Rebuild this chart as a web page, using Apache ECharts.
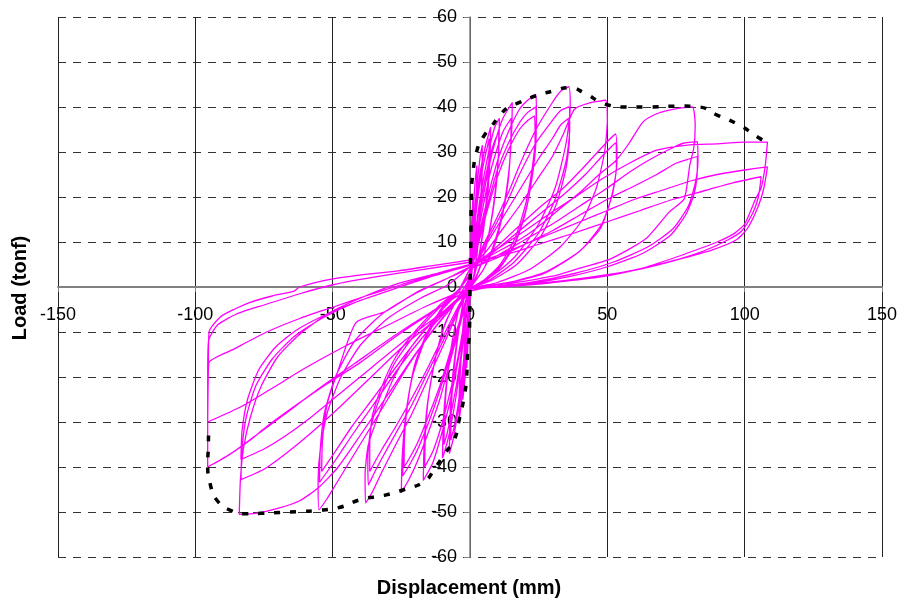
<!DOCTYPE html>
<html>
<head>
<meta charset="utf-8">
<script src="https://cdn.jsdelivr.net/npm/echarts@6/dist/echarts.min.js"></script>
<style>html,body{margin:0;padding:0;background:#fff}#c{width:900px;height:598px}</style>
</head>
<body>
<div id="c"></div>
<script>
// Axis ticks
var xTicks = [-150, -100, -50, 0, 50, 100, 150];
var yTicks = [-60, -50, -40, -30, -20, -10, 0, 10, 20, 30, 40, 50, 60];
var xName = 'Displacement (mm)';
var yName = 'Load (tonf)';

// Envelope (dashed black)
var envelope = [[-95.2,-33],[-95.3,-36],[-95.5,-39],[-94.5,-44],[-92,-47.5],[-87,-49.7],[-82,-50.4],[-76,-50.3],[-69.4,-50.1],[-62,-49.9],[-56.6,-49.7],[-47.6,-49],[-39.6,-47.2],[-31.2,-46.3],[-23.9,-45],[-16.6,-43.2],[-13,-40.5],[-9.4,-37.2],[-5.7,-33.9],[-3.9,-29.4],[-2,-24],[-1.3,-20.5],[-0.8,-14],[-0.2,-10],[0,0],[0.3,10],[0.5,20],[1,25],[2.7,30.7],[5,33.5],[7.7,35.6],[10.7,38],[14,40],[17.2,40.8],[24,42.5],[30,43.5],[36,44.3],[42,43],[47,41.2],[50,40.5],[55,40],[65,40],[76,40.2],[83.5,40],[90,38.2],[98,36],[105,33.2],[108.5,32]];

// Hysteresis cycles (magenta)
var cycS1 = [[0,1],[0.15,5],[0.3,9],[0.5,12],[0.4,8],[0.25,4],[0.1,0],[-0.1,-4],[-0.25,-8],[-0.4,-10],[-0.3,-6],[-0.15,-2],[0,1]];
var cycS2 = [[0,2],[0.3,8],[0.6,14],[0.9,18],[1.1,20],[1,15],[0.7,9],[0.4,4],[0.1,0],[-0.3,-6],[-0.7,-12],[-1,-16],[-1.2,-18],[-1.1,-13],[-0.8,-7],[-0.4,-2],[0,2]];
var cycS3 = [[0,3],[0.6,10],[1.2,17],[1.8,23],[2.5,27],[2.3,20],[1.8,13],[1.1,6],[0.4,1],[-0.2,-4],[-0.8,-11],[-1.5,-18],[-2.1,-22],[-2.6,-25],[-2.4,-18],[-1.9,-11],[-1.1,-4],[-0.4,0.5],[0,3]];
var cycS4 = [[0,3],[0.8,10],[1.8,18],[2.8,24],[3.7,29],[4.5,31.5],[4.3,25],[3.7,17],[2.7,9],[1.5,3],[0.4,0],[-0.4,-6],[-1.3,-13],[-2.2,-20],[-3.2,-26],[-4,-30],[-3.8,-23],[-3.2,-15],[-2.2,-7],[-1,-1],[0,3]];
var cycS4b = [[0,3],[0.8,9],[1.8,16],[2.8,21.5],[3.7,25.5],[4.5,28],[4.3,22],[3.7,15],[2.7,8],[1.5,2.5],[0.4,0],[-0.4,-5.5],[-1.3,-12],[-2.2,-18],[-3.2,-23.5],[-4,-27],[-3.8,-21],[-3.2,-14],[-2.2,-6.5],[-1,-1],[0,3]];
var cycL4 = [[0,3],[1,10],[2.5,19],[4,26],[5.5,31],[7.5,35.5],[7.3,29],[6.5,21],[5,13],[3,6],[1,1],[-0.5,-5],[-1.7,-13],[-3,-21],[-4.5,-28],[-6,-33.5],[-7.5,-37],[-7.3,-29],[-6.5,-21],[-5,-13],[-3,-5],[-1,0.5],[0,3]];
var cycL4b = [[0,3],[1,9.5],[2.5,18],[4,24.5],[5.5,29],[7,33],[6.8,27],[6,19.5],[4.6,12],[2.8,5.5],[1,1],[-0.5,-4.5],[-1.6,-12],[-2.9,-19.5],[-4.3,-26],[-5.7,-31],[-7,-34],[-6.8,-27],[-6,-19.5],[-4.6,-12],[-2.8,-4.5],[-1,0.5],[0,3]];
var cycL5 = [[0,3],[1.5,10],[3.5,19],[5.5,26],[7.5,32],[9,35.5],[10.7,37.5],[10.5,31],[9.5,23],[7.5,14],[5,7],[2,2],[0,0],[-1.5,-7],[-3,-15],[-5,-24],[-7,-31],[-8.5,-35],[-10,-38],[-9.7,-30],[-8.7,-22],[-7,-14],[-4.5,-6],[-2,-1],[0,3]];
var cycL5b = [[0,3],[1.5,9.5],[3.5,17.5],[5.5,24],[7.5,29.5],[9,32.5],[10.5,34.5],[10.3,28.5],[9.3,21],[7.3,13],[4.8,6.5],[2,1.8],[0,0],[-1.5,-6.5],[-3,-14],[-5,-22],[-7,-28.5],[-8.3,-32.5],[-9.5,-35],[-9.2,-28],[-8.3,-20.5],[-6.7,-13],[-4.3,-5.5],[-2,-1],[0,3]];
var cycL6 = [[0,3],[2,10],[4.5,19],[7,27],[9.5,33],[12,37.5],[15.4,41],[15.2,35],[14.2,26],[12,17],[9,10],[5,4],[1.5,1],[0,-1],[-2,-8],[-4.5,-17],[-7.5,-26],[-10.5,-33],[-13.5,-39],[-17,-43],[-16.7,-35],[-15.5,-26],[-13,-17],[-9.5,-9],[-5,-3],[-1,1],[0,3]];
var cycL6b = [[0,3],[2,9],[4.5,17],[7,24.5],[9.5,30],[12,34.5],[15,37.5],[14.8,31],[13.8,23],[11.5,15],[8.5,8.5],[4.5,3.5],[1,0.5],[0,-1],[-2,-7.5],[-4.5,-16],[-7.5,-24],[-10.5,-31],[-13.5,-36.5],[-16.5,-40],[-16.2,-32],[-15,-24],[-12.5,-15.5],[-9,-8],[-4.5,-2.5],[-1,1],[0,3]];
var cycL7 = [[0,3],[3,11],[6.5,20],[10,28],[14,34.5],[18,39.5],[21,41.5],[24,42.8],[24.2,37],[23,28],[20.5,19],[16.5,11],[11,5],[5,1.5],[0,-0.5],[-3,-7],[-7,-16],[-11,-25],[-15,-32],[-19,-38.5],[-22,-42.5],[-25,-45.7],[-24.7,-38],[-23.5,-29],[-21,-20],[-16.5,-12],[-10,-5],[-4,-0.5],[0,3]];
var cycL7b = [[0,3],[3,10],[6.5,18.5],[10,26],[14,32],[18,36.5],[21,38.8],[24,40],[24.1,34],[23,26],[20.5,17.5],[16.5,10],[11,4.5],[5,1.2],[0,-0.5],[-3,-6.5],[-7,-15],[-11,-23],[-15,-30],[-19,-36],[-22,-39.5],[-24.5,-42],[-24.2,-35],[-23,-27],[-20.5,-18.5],[-16,-11],[-10,-4.5],[-4,-0.5],[0,3]];
var cycL7c = [[0,3],[3,9.5],[6.5,17.5],[10,24.5],[14,30.5],[18,35],[21,37],[23.5,38],[23.7,32],[22.5,24],[20,16],[16,9],[10.5,4],[5,1],[0,-0.5],[-3,-6],[-7,-14],[-11,-22],[-15,-28.5],[-19,-34.5],[-22,-38],[-24,-40],[-23.8,-33],[-22.5,-25],[-20,-17],[-15.5,-10],[-9.5,-4],[-4,-0.5],[0,3]];
var cycL8 = [[0,4],[2,5],[5,9.5],[9.5,15],[14,21],[18,27],[24,35],[30,41],[33,43.5],[36,44.5],[36.5,40],[35,32],[31,22],[25,14],[16,6.5],[7,2],[0,-0.5],[-4,-5],[-9,-12],[-15,-20],[-21,-28],[-27,-35],[-32,-41],[-35.5,-45.5],[-38,-48],[-38.2,-42],[-37,-35],[-33,-28],[-28,-20.5],[-21,-13],[-11,-5.6],[-4,-1],[0,4]];
var cycL8b = [[0,4],[2,5],[5,9],[9.5,14],[14,19.5],[18,25],[24,32],[30,37],[33,39.2],[36,40],[36.3,35],[35,28],[31,19.5],[25,12],[16,5.5],[7,1.5],[0,-0.5],[-4,-4.5],[-9,-11],[-15,-18.5],[-21,-26],[-27,-32.5],[-32,-38],[-35,-41.5],[-37,-44],[-37.2,-38],[-36,-31],[-32.5,-24],[-27.5,-17],[-20,-10.5],[-11,-4.5],[-4,-0.5],[0,4]];
var cycL8c = [[0,4],[3,6],[6,9.5],[10,13.5],[15,18.5],[20,23.5],[25,28.5],[30,33],[33,36],[36,37.5],[36.2,33],[35,26.5],[31.5,18.5],[25.5,11],[17,5],[8,1.5],[0,-0.5],[-4,-4],[-9,-10],[-15,-17.5],[-21,-24.5],[-27,-31],[-32,-36],[-36.5,-41],[-36.5,-35],[-35.5,-28.5],[-32,-22],[-27,-15.5],[-19.5,-9.5],[-11,-4],[-4,-0.5],[0,4]];
var cycL9 = [[0,4],[6,8],[12,13],[18,18],[24,23.5],[30,29],[34,34],[38,39.5],[43,40.8],[49.4,41.5],[50,37],[49,30],[46,22],[41,15],[33,9],[22,4],[10,1],[0,-0.5],[-6,-4],[-14,-10],[-22,-17],[-30,-25],[-38,-33],[-44,-39],[-49,-44],[-52,-47],[-55,-49.5],[-55.3,-43],[-54.5,-36],[-52,-28],[-47,-20],[-40,-13],[-30,-7],[-18,-2.5],[-8,0.5],[0,4.5]];
var cycL9b = [[0,4],[8,8],[16,12.5],[25,17.5],[34,22],[42,27],[48,31],[53,34],[53.5,28],[52,21],[48,14],[40,8],[28,3.5],[14,1],[0,-0.5],[-8,-5],[-17,-11],[-26,-18],[-35,-26],[-43,-33],[-49,-38.5],[-54.8,-43.4],[-54.5,-36],[-53,-28],[-49,-20],[-42,-12],[-32,-6],[-20,-1.5],[-8,2],[0,4.5]];
var cycL9c = [[0,4],[8,7.5],[16,11.5],[25,16],[34,20.5],[42,25],[48,29],[53,32],[53.3,26.5],[51.5,20],[47.5,13],[39,7.5],[27,3],[13,0.8],[0,-0.5],[-8,-4.5],[-17,-10],[-26,-17],[-35,-24.5],[-43,-31],[-49,-36.5],[-54,-41],[-53.7,-34],[-52,-26],[-48,-18.5],[-41.5,-7.9],[-31,-5.5],[-19,-1],[-8,2],[0,4.5]];
var cycL10 = [[0,4.7],[6,6.5],[12,8.5],[18,10.5],[24,13],[32,17],[40,21],[47,25],[53,28],[58,32],[63,36.7],[68,38.5],[72.6,39.3],[77,39.8],[81,40],[82,36],[81.5,31],[80,27],[78,19.6],[72.6,16.7],[64,10.7],[51,6.2],[40,4.2],[30,2.4],[15,0.8],[0,-0.5],[-10,-7],[-20,-15],[-30,-24],[-40,-33],[-48,-40],[-55,-44.5],[-62,-47.5],[-70,-49.2],[-78,-50.3],[-84,-50.5],[-83.6,-43],[-82.5,-36],[-80,-29],[-76,-22],[-70,-15.5],[-62,-10.5],[-52,-6],[-40,-2.5],[-26,0.8],[-12,3],[0,5]];
var cycL10b = [[0,4],[10,7],[20,10.5],[30,14],[40,18],[50,22],[58,25.5],[66,28.5],[74,31],[78,32],[82.8,32.3],[83,28],[82,23],[79.5,18],[74,13],[65,9],[52,5.5],[38,3],[22,1],[8,0],[0,-1],[-12,-7],[-24,-13],[-36,-20],[-48,-27],[-58,-32.5],[-67,-37],[-75,-40.5],[-83.4,-42.8],[-83,-36],[-81.5,-29],[-78,-22],[-72,-16],[-64,-11],[-54,-7],[-42,-3.5],[-28,-0.5],[-14,2.5],[0,5]];
var cycL10c = [[0,4],[10,6.5],[20,9.5],[30,12.5],[40,16],[50,19.5],[60,22.5],[68,25],[75,27.5],[80,28.5],[82.8,29],[82.7,25],[81.5,20.5],[78.5,16],[73,11.5],[63,7.5],[50,4.5],[36,2.3],[20,0.6],[6,0],[0,-1],[-12,-6.5],[-24,-12],[-36,-18],[-48,-24],[-58,-29],[-67,-33],[-75,-36],[-83.4,-38.3],[-83,-32],[-81,-25],[-77,-18.5],[-71,-13.5],[-63,-9.5],[-52,-6],[-40,-3],[-27,-0.3],[-13,2.5],[0,4.8]];
var cycL11 = [[0,4.7],[6,7],[11.8,9.2],[20,12.5],[30,16.7],[39,20.3],[48,24],[58,27.5],[68,30.4],[80,31.6],[90,31.8],[100,32.2],[108.3,32.2],[107.5,27],[106,22],[104,19.6],[100,14],[96,11.8],[90,10],[83.5,8.5],[72,6],[61.6,4],[47,2.2],[35,1.3],[25,0.7],[10.6,0],[0,-0.5],[-13.7,-5.6],[-27,-11],[-40,-16.8],[-52,-21.5],[-62,-25.7],[-74,-31],[-80,-34],[-86.5,-36.8],[-91,-38.5],[-95.5,-40],[-95.5,-30],[-95.3,-20],[-95,-10],[-91,-6.7],[-86,-5],[-80,-3.4],[-72,-2],[-64,-0.9],[-62,0],[-50,1.8],[-38,2.8],[-26,3.6],[-13,4.8],[0,6]];
var cycL11b = [[0,5],[10,7],[20,9.5],[30,12],[40,14.5],[50,17],[60,19.5],[70,21.5],[80,23.5],[90,25],[100,26],[108.3,26.7],[107,22],[105,18],[101,13],[97,10.5],[88,8.2],[75,6],[62,4],[48,2.5],[30,1],[12,0],[0,-0.5],[-15,-4],[-30,-8.5],[-45,-13],[-60,-18],[-72,-22.5],[-83,-26.5],[-95.5,-30],[-95.5,-20],[-95.2,-12],[-92,-8.5],[-85,-6],[-75,-4],[-62,-1.5],[-50,0.5],[-35,2.2],[-18,3.8],[0,5.5]];
var cycL11c = [[0,5],[12,7],[25,9.5],[38,12],[50,14.5],[62,17],[74,19.5],[86,21.5],[96,23.2],[106,24.5],[105,20],[103,16.5],[99,12.5],[94,10.5],[85,8],[72,5.5],[58,3.5],[42,2],[25,0.8],[10,0],[0,-0.5],[-14,-5.5],[-28,-11],[-42,-17],[-56,-23],[-68,-28.5],[-78,-33],[-87,-37],[-95.5,-40],[-95.5,-30],[-95.3,-20],[-95,-16.7],[-86,-13.8],[-74,-10],[-62,-7],[-50,-4.5],[-38,-2],[-25,0.5],[-12,3],[0,5]];

var cycles = [cycS1, cycS2, cycS3, cycS4, cycS4b, cycL4, cycL4b, cycL5, cycL5b, cycL6, cycL6b, cycL7, cycL7b, cycL7c, cycL8, cycL8b, cycL8c, cycL9, cycL9b, cycL9c, cycL10, cycL10b, cycL10c, cycL11, cycL11b, cycL11c];
var loops = [];
cycles.forEach(function (c) { loops = loops.concat(c); });

var FONT = 'Liberation Sans, Arial, sans-serif';
var chart = echarts.init(document.getElementById('c'), null, {renderer: 'canvas'});
chart.setOption({
  animation: false,
  backgroundColor: '#ffffff',
  grid: {left: 58, right: 18, top: 17, bottom: 41, containLabel: false},
  xAxis: {
    type: 'value', min: xTicks[0], max: xTicks[xTicks.length - 1], interval: 50,
    position: 'bottom', offset: -270,
    axisLine: {show: true, onZero: false, lineStyle: {color: '#808080', width: 2}},
    axisTick: {show: true, length: 5, lineStyle: {color: '#808080'}},
    axisLabel: {show: true, margin: 19, color: '#000', fontSize: 18, fontFamily: FONT, showMinLabel: true, showMaxLabel: true},
    splitLine: {show: true, lineStyle: {color: '#222', width: 1, type: 'solid'}}
  },
  yAxis: {
    type: 'value', min: yTicks[0], max: yTicks[yTicks.length - 1], interval: 10,
    position: 'left', offset: -412,
    axisLine: {show: true, onZero: false, lineStyle: {color: '#808080', width: 1.5}},
    axisTick: {show: true, length: 6, lineStyle: {color: '#808080'}},
    axisLabel: {show: true, margin: 13, color: '#000', fontSize: 18, fontFamily: FONT, showMinLabel: true, showMaxLabel: true},
    splitLine: {show: true, lineStyle: {color: '#333', width: 1, type: [8, 7]}}
  },
  series: [
    {type: 'line', data: loops, showSymbol: false, symbol: 'none', smooth: 0.2,
     lineStyle: {color: '#FF00FF', width: 1.3}, z: 3, silent: true},
    {type: 'line', data: envelope, showSymbol: false, symbol: 'none', smooth: true,
     lineStyle: {color: '#000000', width: 3.5, type: [6, 10]}, z: 4, silent: true}
  ],
  graphic: [
    {type: 'text', x: 469, y: 588, style: {text: xName, font: 'bold 20px ' + FONT, fill: '#000', align: 'center', verticalAlign: 'middle'}},
    {type: 'text', x: 20, y: 288, rotation: Math.PI / 2, style: {text: yName, font: 'bold 20px ' + FONT, fill: '#000', align: 'center', verticalAlign: 'middle'}}
  ]
});
</script>
</body>
</html>
